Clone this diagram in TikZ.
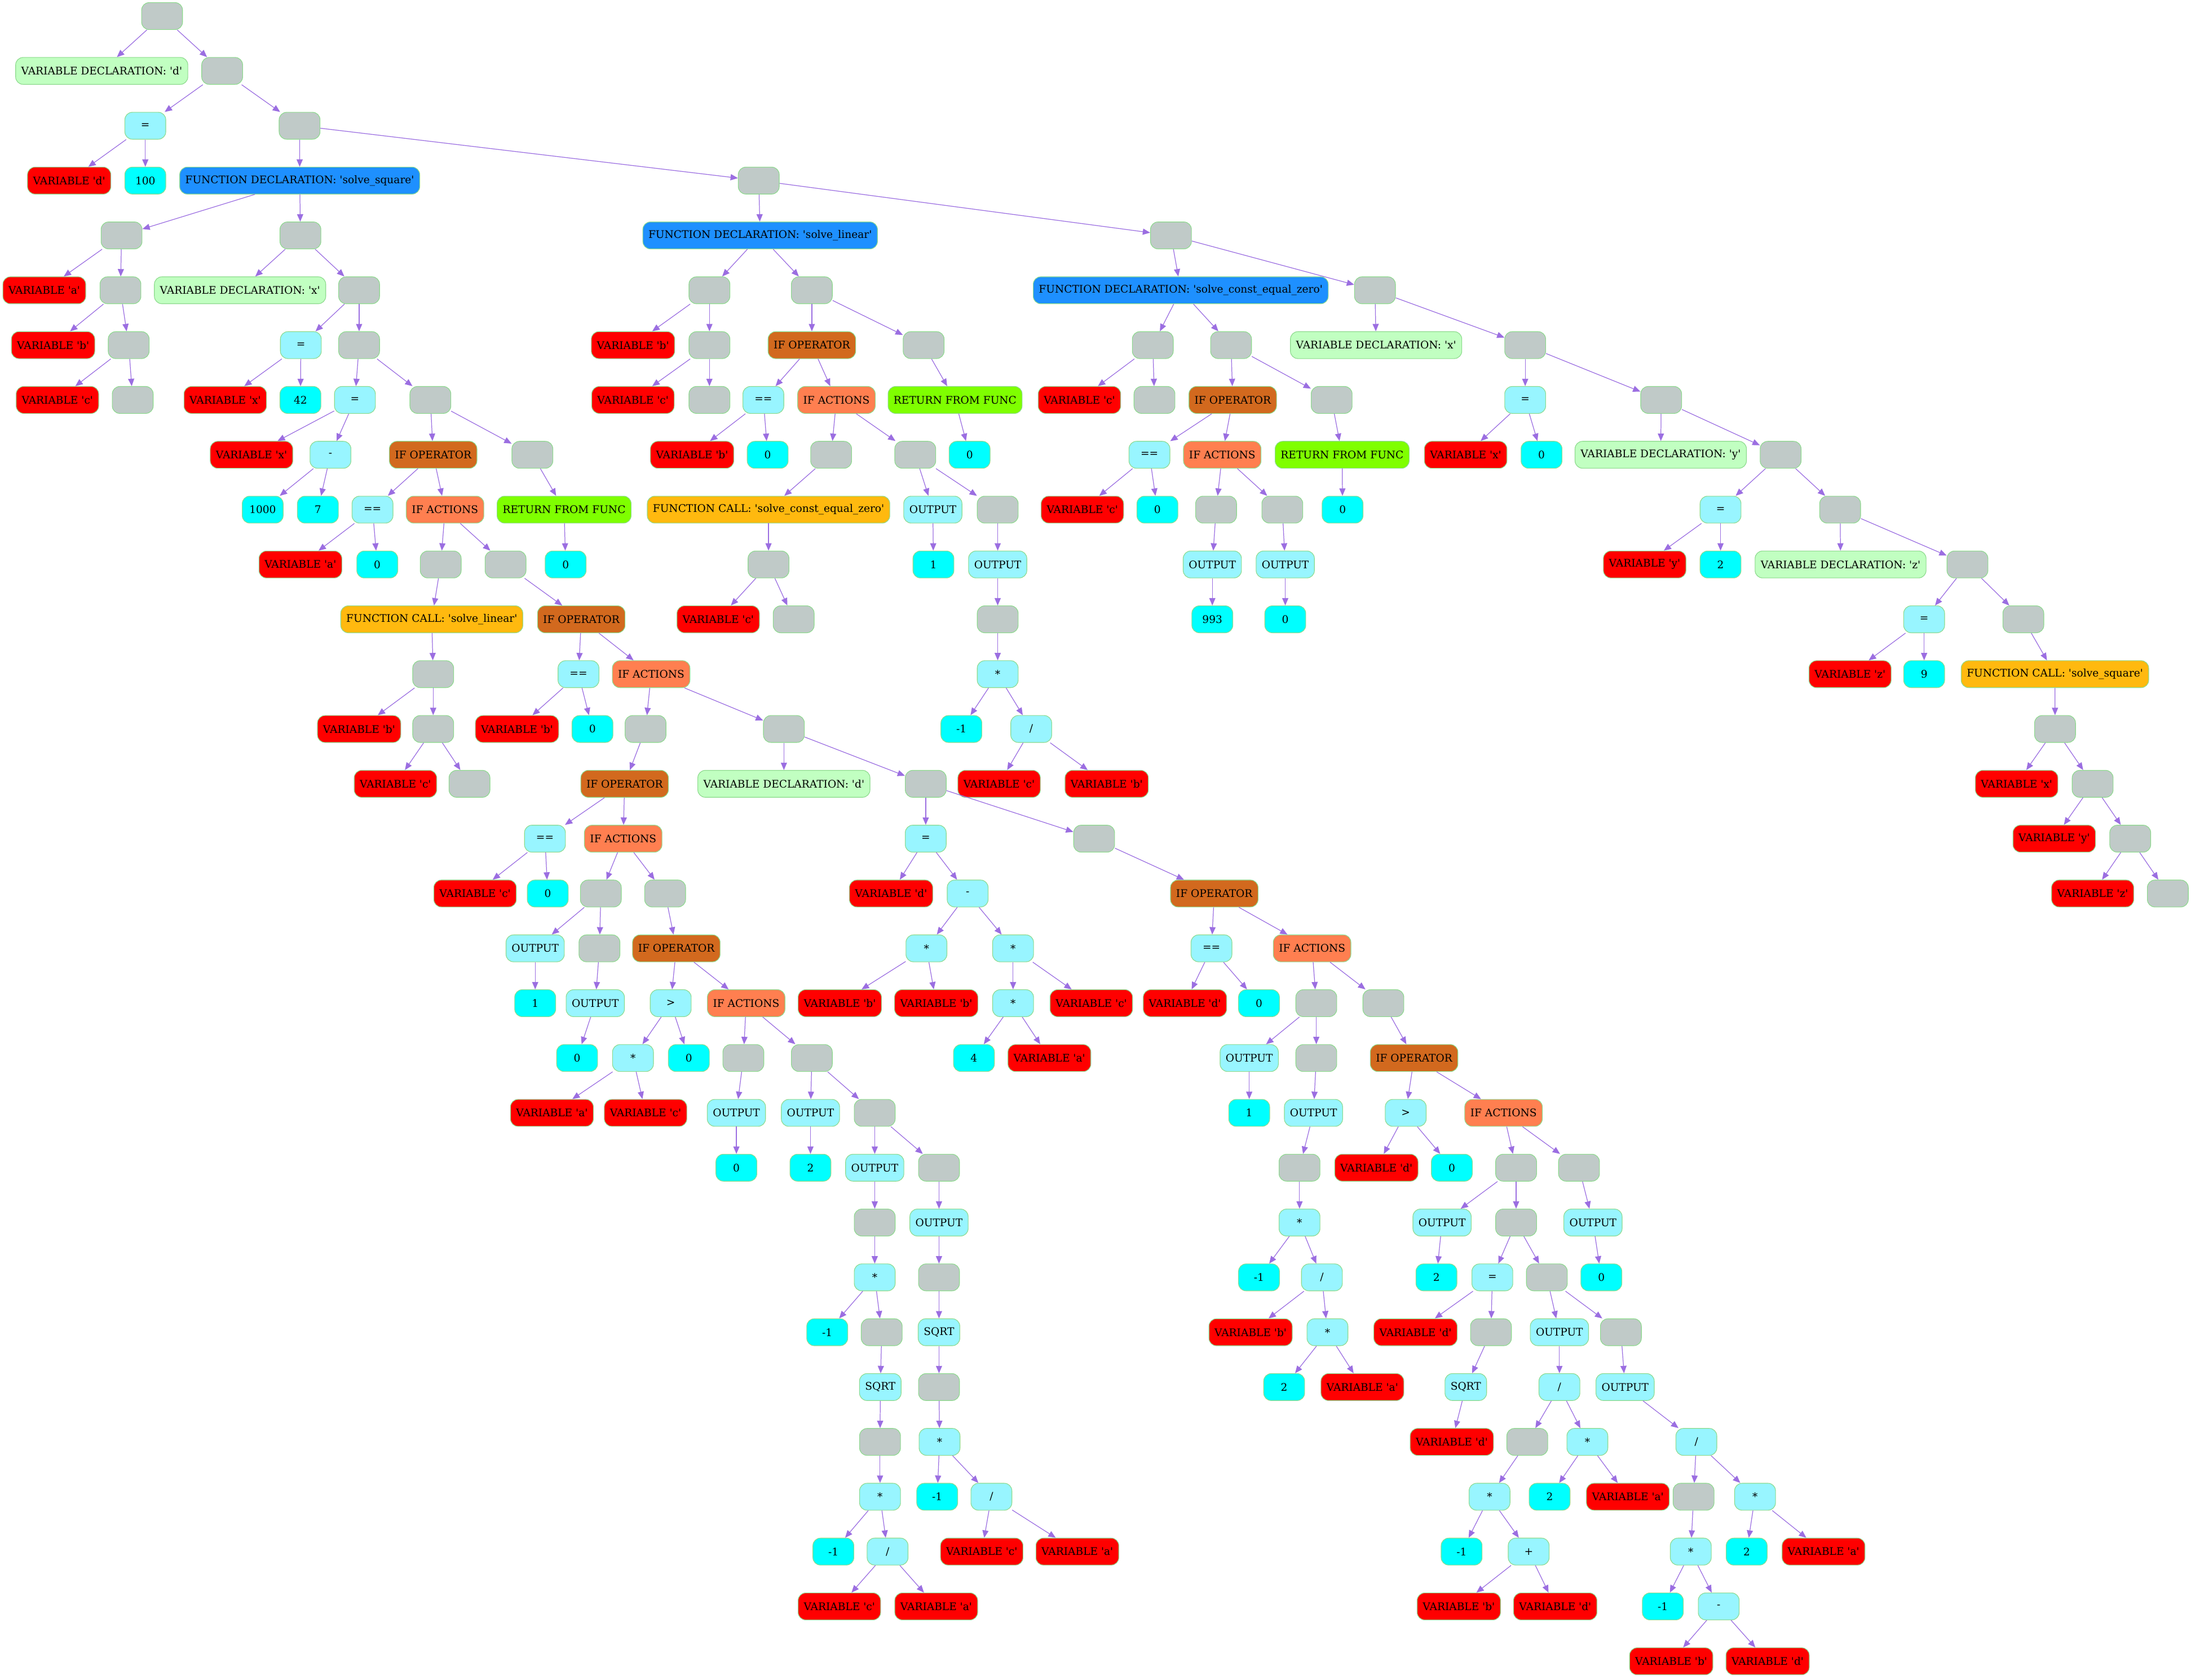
\documentclass[tikz,border=0pt]{standalone}
\usepackage{fontspec}
\usetikzlibrary{arrows.meta}
\newfontfamily\lblfam{DejaVu Serif}
\definecolor{blankc}{RGB}{192,202,200}
\definecolor{bordc}{RGB}{140,218,140}
\definecolor{edgec}{RGB}{155,110,225}
\definecolor{vdeclc}{RGB}{193,255,193}
\definecolor{opc}{RGB}{152,245,255}
\definecolor{numc}{RGB}{0,255,255}
\definecolor{varc}{RGB}{255,0,0}
\definecolor{fdeclc}{RGB}{30,144,255}
\definecolor{ifopc}{RGB}{210,105,30}
\definecolor{ifactc}{RGB}{255,127,80}
\definecolor{retc}{RGB}{127,255,0}
\definecolor{fcallc}{RGB}{255,185,15}
\begin{document}
\begin{tikzpicture}[x=1pt,y=-39.25pt,
  nd/.style={draw=bordc,line width=0.45pt,rounded corners=5.4pt,
    minimum width=29.3pt,minimum height=19.3pt,inner xsep=4pt,inner ysep=0pt,
    font=\lblfam\fontsize{7.5}{9}\selectfont,text=black},
  bl/.style={nd,fill=blankc},
  vd/.style={nd,fill=vdeclc},
  op/.style={nd,fill=opc},
  nm/.style={nd,fill=numc},
  vr/.style={nd,fill=varc},
  fd/.style={nd,fill=fdeclc},
  io/.style={nd,fill=ifopc},
  ia/.style={nd,fill=ifactc},
  rt/.style={nd,fill=retc},
  fc/.style={nd,fill=fcallc},
  conn/.style={draw=edgec,line width=0.5pt,-{Triangle[length=5.3pt,width=4.4pt]}}]
\useasboundingbox (0,-0.29299) rectangle (1568,30.3414);

% program root and global declarations
\node[bl] (n0) at (116,0) {};
\node[vd] (n1) at (72.8,1) {VARIABLE DECLARATION: 'd'};
\node[bl] (n2) at (159,1) {};
\node[op] (n3) at (104,2) {=};
\node[bl] (n4) at (214.4,2) {};
\node[vr] (n5) at (49.5,3) {VARIABLE 'd'};
\node[nm] (n6) at (104,3) {100};
\node[fd] (n7) at (214.5,3) {FUNCTION DECLARATION: 'solve\_square'};
\node[bl] (n8) at (543,3) {};

% solve_square
\node[bl] (a1) at (87,4) {};
\node[bl] (a2) at (215,4) {};
\node[vr] (a3) at (31.7,5) {VARIABLE 'a'};
\node[bl] (a4) at (86.2,5) {};
\node[vr] (a5) at (38,6) {VARIABLE 'b'};
\node[bl] (a6) at (92.1,6) {};
\node[vr] (a7) at (41.1,7) {VARIABLE 'c'};
\node[bl] (a8) at (95,7) {};
\node[vd] (a9) at (171.8,5) {VARIABLE DECLARATION: 'x'};
\node[bl] (a10) at (257,5) {};
\node[op] (a11) at (215.3,6) {=};
\node[bl] (a12) at (257,6) {};
\node[vr] (a13) at (161.2,7) {VARIABLE 'x'};
\node[nm] (a14) at (215,7) {42};
\node[op] (a15) at (254,7) {=};
\node[bl] (a16) at (308,7) {};
\node[vr] (a17) at (180,8) {VARIABLE 'x'};
\node[op] (a18) at (236.5,8) {-};
\node[nm] (a19) at (188,9) {1000};
\node[nm] (a20) at (227.5,9) {7};
\node[io] (a21) at (310,8) {IF OPERATOR};
\node[bl] (a22) at (381,8) {};
\node[op] (a23) at (266.6,9) {==};
\node[ia] (a24) at (318.5,9) {IF ACTIONS};
\node[rt] (a25) at (403.7,9) {RETURN FROM FUNC};
\node[vr] (a26) at (215,10) {VARIABLE 'a'};
\node[nm] (a27) at (270,10) {0};
\node[bl] (a28) at (315.4,10) {};
\node[bl] (a29) at (361.8,10) {};
\node[nm] (a30) at (404.8,10) {0};
\node[fc] (a31) at (309,11) {FUNCTION CALL: 'solve\_linear'};
\node[bl] (a32) at (310,12) {};
\node[vr] (a33) at (257,13) {VARIABLE 'b'};
\node[bl] (a34) at (310,13) {};
\node[vr] (a35) at (283,14) {VARIABLE 'c'};
\node[bl] (a36) at (336,14) {};
\node[io] (a37) at (416,11) {IF OPERATOR};
\node[op] (a38) at (414,12) {==};
\node[ia] (a39) at (466,12) {IF ACTIONS};
\node[vr] (a40) at (370,13) {VARIABLE 'b'};
\node[nm] (a41) at (424,13) {0};
\node[bl] (a42) at (462,13) {};
\node[bl] (a43) at (561,13) {};
\node[io] (a44) at (447,14) {IF OPERATOR};
\node[op] (a45) at (390,15) {==};
\node[ia] (a46) at (446,15) {IF ACTIONS};
\node[vr] (a47) at (340,16) {VARIABLE 'c'};
\node[nm] (a48) at (392,16) {0};
\node[bl] (a49) at (430,16) {};
\node[bl] (a50) at (476,16) {};
\node[op] (a51) at (383,17) {OUTPUT};
\node[bl] (a52) at (429,17) {};
\node[nm] (a53) at (383,18) {1};
\node[op] (a54) at (426,18) {OUTPUT};
\node[nm] (a55) at (413,19) {0};
\node[io] (a56) at (484,17) {IF OPERATOR};
\node[op] (a57) at (480,18) {>};
\node[ia] (a58) at (534,18) {IF ACTIONS};
\node[op] (a59) at (453,19) {*};
\node[nm] (a60) at (493,19) {0};
\node[vr] (a61) at (395,20) {VARIABLE 'a'};
\node[vr] (a62) at (462,20) {VARIABLE 'c'};
\node[bl] (a63) at (532,19) {};
\node[bl] (a64) at (581,19) {};
\node[op] (a65) at (527,20) {OUTPUT};
\node[nm] (a66) at (527,21) {0};
\node[op] (a67) at (580,20) {OUTPUT};
\node[bl] (a68) at (626,20) {};
\node[nm] (a69) at (580,21) {2};
\node[op] (a70) at (626,21) {OUTPUT};
\node[bl] (a71) at (672,21) {};
\node[bl] (a72) at (626,22) {};
\node[op] (a73) at (626,23) {*};
\node[nm] (a74) at (592,24) {-1};
\node[bl] (a75) at (631,24) {};
\node[op] (a76) at (630,25) {SQRT};
\node[bl] (a77) at (629.8,26) {};
\node[op] (a78) at (629.8,27) {*};
\node[nm] (a79) at (596.4,28) {-1};
\node[op] (a80) at (635.2,28) {/};
\node[vr] (a81) at (600.7,29) {VARIABLE 'c'};
\node[vr] (a82) at (670,29) {VARIABLE 'a'};
\node[op] (a83) at (672,22) {OUTPUT};
\node[bl] (a84) at (672,23) {};
\node[op] (a85) at (672,24) {SQRT};
\node[bl] (a86) at (672,25) {};
\node[op] (a87) at (672.4,26) {*};
\node[nm] (a88) at (670.7,27) {-1};
\node[op] (a89) at (709.5,27) {/};
\node[vr] (a90) at (702.6,28) {VARIABLE 'c'};
\node[vr] (a91) at (771,28) {VARIABLE 'a'};

% discriminant branch
\node[vd] (e0) at (561,14) {VARIABLE DECLARATION: 'd'};
\node[bl] (e1) at (662.5,14) {};
\node[op] (e2) at (662.5,15) {=};
\node[bl] (e3) at (783,15) {};
\node[vr] (e4) at (637.7,16) {VARIABLE 'd'};
\node[op] (e5) at (692.5,16) {-};
\node[op] (e6) at (663,17) {*};
\node[op] (e7) at (725,17) {*};
\node[vr] (e8) at (601,18) {VARIABLE 'b'};
\node[vr] (e9) at (670,18) {VARIABLE 'b'};
\node[op] (e10) at (725,18) {*};
\node[vr] (e11) at (781,18) {VARIABLE 'c'};
\node[nm] (e12) at (697,19) {4};
\node[vr] (e13) at (751,19) {VARIABLE 'a'};
\node[io] (e14) at (869,16) {IF OPERATOR};
\node[op] (e15) at (867,17) {==};
\node[ia] (e16) at (939,17) {IF ACTIONS};
\node[vr] (e17) at (848,18) {VARIABLE 'd'};
\node[nm] (e18) at (901,18) {0};
\node[bl] (e19) at (942,18) {};
\node[bl] (e20) at (990,18) {};
\node[op] (e21) at (894,19) {OUTPUT};
\node[bl] (e22) at (942,19) {};
\node[nm] (e23) at (894,20) {1};
\node[op] (e24) at (940,20) {OUTPUT};
\node[bl] (e25) at (930,21) {};
\node[op] (e26) at (930,22) {*};
\node[nm] (e27) at (901,23) {-1};
\node[op] (e28) at (946,23) {/};
\node[vr] (e29) at (895,24) {VARIABLE 'b'};
\node[op] (e30) at (950,24) {*};
\node[nm] (e31) at (919,25) {2};
\node[vr] (e32) at (975,25) {VARIABLE 'a'};
\node[io] (e33) at (1012,19) {IF OPERATOR};
\node[op] (e34) at (1006,20) {>};
\node[ia] (e35) at (1076,20) {IF ACTIONS};
\node[vr] (e36) at (985,21) {VARIABLE 'd'};
\node[nm] (e37) at (1039,21) {0};
\node[bl] (e38) at (1085,21) {};
\node[bl] (e39) at (1130,21) {};
\node[op] (e40) at (1032,22) {OUTPUT};
\node[bl] (e41) at (1085,22) {};
\node[nm] (e42) at (1028,23) {2};
\node[op] (e43) at (1068,23) {=};
\node[bl] (e44) at (1107,23) {};
\node[vr] (e45) at (1013,24) {VARIABLE 'd'};
\node[bl] (e46) at (1067,24) {};
\node[op] (e47) at (1049,25) {SQRT};
\node[vr] (e48) at (1039,26) {VARIABLE 'd'};
\node[op] (e49) at (1116,24) {OUTPUT};
\node[bl] (e50) at (1160,24) {};
\node[op] (e51) at (1116,25) {/};
\node[bl] (e52) at (1093,26) {};
\node[op] (e53) at (1136,26) {*};
\node[op] (e54) at (1066,27) {*};
\node[nm] (e55) at (1046,28) {-1};
\node[op] (e56) at (1094,28) {+};
\node[vr] (e57) at (1044,29) {VARIABLE 'b'};
\node[vr] (e58) at (1113,29) {VARIABLE 'd'};
\node[nm] (e59) at (1109,27) {2};
\node[vr] (e60) at (1165,27) {VARIABLE 'a'};
\node[op] (e61) at (1163,25) {OUTPUT};
\node[op] (e62) at (1214,26) {/};
\node[bl] (e63) at (1212,27) {};
\node[op] (e64) at (1256,27) {*};
\node[op] (e65) at (1210,28) {*};
\node[nm] (e66) at (1190,29) {-1};
\node[op] (e67) at (1230,29) {-};
\node[vr] (e68) at (1196,30) {VARIABLE 'b'};
\node[vr] (e69) at (1265,30) {VARIABLE 'd'};
\node[nm] (e70) at (1250,28) {2};
\node[vr] (e71) at (1305,28) {VARIABLE 'a'};
\node[op] (e72) at (1140,22) {OUTPUT};
\node[nm] (e73) at (1146,23) {0};

% solve_linear
\node[fd] (b0) at (544,4) {FUNCTION DECLARATION: 'solve\_linear'};
\node[bl] (b1) at (838,4) {};
\node[bl] (b2) at (507.7,5) {};
\node[bl] (b3) at (581,5) {};
\node[vr] (b4) at (453,6) {VARIABLE 'b'};
\node[bl] (b5) at (507.7,6) {};
\node[vr] (b6) at (453,7) {VARIABLE 'c'};
\node[bl] (b7) at (507.7,7) {};
\node[io] (b8) at (581,6) {IF OPERATOR};
\node[bl] (b9) at (661,6) {};
\node[op] (b10) at (546.3,7) {==};
\node[ia] (b11) at (598.6,7) {IF ACTIONS};
\node[rt] (b12) at (683.5,7) {RETURN FROM FUNC};
\node[vr] (b13) at (495.3,8) {VARIABLE 'b'};
\node[nm] (b14) at (549.4,8) {0};
\node[bl] (b15) at (594.8,8) {};
\node[bl] (b16) at (655,8) {};
\node[nm] (b17) at (693.9,8) {0};
\node[fc] (b18) at (550,9) {FUNCTION CALL: 'solve\_const\_equal\_zero'};
\node[bl] (b19) at (550,10) {};
\node[vr] (b20) at (514,11) {VARIABLE 'c'};
\node[bl] (b21) at (568,11) {};
\node[op] (b22) at (667.6,9) {OUTPUT};
\node[bl] (b23) at (714,9) {};
\node[nm] (b24) at (668,10) {1};
\node[op] (b25) at (714,10) {OUTPUT};
\node[bl] (b26) at (714,11) {};
\node[op] (b27) at (714,12) {*};
\node[nm] (b28) at (688,13) {-1};
\node[op] (b29) at (738,13) {/};
\node[vr] (b30) at (715,14) {VARIABLE 'c'};
\node[vr] (b31) at (792,14) {VARIABLE 'b'};

% solve_const_equal_zero
\node[fd] (c0) at (845,5) {FUNCTION DECLARATION: 'solve\_const\_equal\_zero'};
\node[bl] (c1) at (984,5) {};
\node[bl] (c2) at (825,6) {};
\node[bl] (c3) at (881,6) {};
\node[vr] (c4) at (772.5,7) {VARIABLE 'c'};
\node[bl] (c5) at (826.2,7) {};
\node[io] (c6) at (882.2,7) {IF OPERATOR};
\node[bl] (c7) at (953,7) {};
\node[op] (c8) at (822.6,8) {==};
\node[ia] (c9) at (874.7,8) {IF ACTIONS};
\node[rt] (c10) at (960.5,8) {RETURN FROM FUNC};
\node[vr] (c11) at (774.6,9) {VARIABLE 'c'};
\node[nm] (c12) at (828.3,9) {0};
\node[bl] (c13) at (870.3,9) {};
\node[bl] (c14) at (917.7,9) {};
\node[nm] (c15) at (960.8,9) {0};
\node[op] (c16) at (867.6,10) {OUTPUT};
\node[op] (c17) at (919.8,10) {OUTPUT};
\node[nm] (c18) at (867.6,11) {993};
\node[nm] (c19) at (919.8,11) {0};

% main body
\node[vd] (d0) at (984.8,6) {VARIABLE DECLARATION: 'x'};
\node[bl] (d1) at (1091.5,6) {};
\node[op] (d2) at (1091.5,7) {=};
\node[bl] (d3) at (1188.8,7) {};
\node[vr] (d4) at (1048.9,8) {VARIABLE 'x'};
\node[nm] (d5) at (1103.2,8) {0};
\node[vd] (d6) at (1188.5,8) {VARIABLE DECLARATION: 'y'};
\node[bl] (d7) at (1274.3,8) {};
\node[op] (d8) at (1231.3,9) {=};
\node[bl] (d9) at (1316.9,9) {};
\node[vr] (d10) at (1177,10) {VARIABLE 'y'};
\node[nm] (d11) at (1231.3,10) {2};
\node[vd] (d12) at (1317.2,10) {VARIABLE DECLARATION: 'z'};
\node[bl] (d13) at (1408,10) {};
\node[op] (d14) at (1377,11) {=};
\node[bl] (d15) at (1448,11) {};
\node[vr] (d16) at (1324,12) {VARIABLE 'z'};
\node[nm] (d17) at (1377,12) {9};
\node[fc] (d18) at (1470.6,12) {FUNCTION CALL: 'solve\_square'};
\node[bl] (d19) at (1470.7,13) {};
\node[vr] (d20) at (1443.2,14) {VARIABLE 'x'};
\node[bl] (d21) at (1497.6,14) {};
\node[vr] (d22) at (1470.1,15) {VARIABLE 'y'};
\node[bl] (d23) at (1524.5,15) {};
\node[vr] (d24) at (1497.6,16) {VARIABLE 'z'};
\node[bl] (d25) at (1551.4,16) {};

% connectors
\foreach \p/\c in {n0/n1,n0/n2,n2/n3,n2/n4,n3/n5,n3/n6,n4/n7,n4/n8,
  n7/a1,n7/a2,a1/a3,a1/a4,a4/a5,a4/a6,a6/a7,a6/a8,a2/a9,a2/a10,a10/a11,a10/a12,
  a11/a13,a11/a14,a12/a15,a12/a16,a15/a17,a15/a18,a18/a19,a18/a20,a16/a21,a16/a22,
  a21/a23,a21/a24,a22/a25,a23/a26,a23/a27,a24/a28,a24/a29,a25/a30,a28/a31,a31/a32,
  a32/a33,a32/a34,a34/a35,a34/a36,a29/a37,a37/a38,a37/a39,a38/a40,a38/a41,a39/a42,
  a39/a43,a42/a44,a44/a45,a44/a46,a45/a47,a45/a48,a46/a49,a46/a50,a49/a51,a49/a52,
  a51/a53,a52/a54,a54/a55,a50/a56,a56/a57,a56/a58,a57/a59,a57/a60,a59/a61,a59/a62,
  a58/a63,a58/a64,a63/a65,a65/a66,a64/a67,a64/a68,a67/a69,a68/a70,a68/a71,a70/a72,
  a72/a73,a73/a74,a73/a75,a75/a76,a76/a77,a77/a78,a78/a79,a78/a80,a80/a81,a80/a82,
  a71/a83,a83/a84,a84/a85,a85/a86,a86/a87,a87/a88,a87/a89,a89/a90,a89/a91,
  a43/e0,a43/e1,e1/e2,e1/e3,e2/e4,e2/e5,e5/e6,e5/e7,e6/e8,e6/e9,e7/e10,e7/e11,
  e10/e12,e10/e13,e3/e14,e14/e15,e14/e16,e15/e17,e15/e18,e16/e19,e16/e20,e19/e21,
  e19/e22,e21/e23,e22/e24,e24/e25,e25/e26,e26/e27,e26/e28,e28/e29,e28/e30,e30/e31,
  e30/e32,e20/e33,e33/e34,e33/e35,e34/e36,e34/e37,e35/e38,e35/e39,e38/e40,e38/e41,
  e40/e42,e41/e43,e41/e44,e43/e45,e43/e46,e46/e47,e47/e48,e44/e49,e44/e50,e49/e51,
  e51/e52,e51/e53,e52/e54,e54/e55,e54/e56,e56/e57,e56/e58,e53/e59,e53/e60,e50/e61,
  e61/e62,e62/e63,e62/e64,e63/e65,e65/e66,e65/e67,e67/e68,e67/e69,e64/e70,e64/e71,
  e39/e72,e72/e73,
  n8/b0,n8/b1,b0/b2,b0/b3,b2/b4,b2/b5,b5/b6,b5/b7,b3/b8,b3/b9,b8/b10,b8/b11,b9/b12,
  b10/b13,b10/b14,b11/b15,b11/b16,b12/b17,b15/b18,b18/b19,b19/b20,b19/b21,b16/b22,
  b16/b23,b22/b24,b23/b25,b25/b26,b26/b27,b27/b28,b27/b29,b29/b30,b29/b31,
  b1/c0,b1/c1,c0/c2,c0/c3,c2/c4,c2/c5,c3/c6,c3/c7,c6/c8,c6/c9,c7/c10,c8/c11,c8/c12,
  c9/c13,c9/c14,c10/c15,c13/c16,c14/c17,c16/c18,c17/c19,
  c1/d0,c1/d1,d1/d2,d1/d3,d2/d4,d2/d5,d3/d6,d3/d7,d7/d8,d7/d9,d8/d10,d8/d11,d9/d12,
  d9/d13,d13/d14,d13/d15,d14/d16,d14/d17,d15/d18,d18/d19,d19/d20,d19/d21,d21/d22,
  d21/d23,d23/d24,d23/d25}
  \draw[conn] (\p) -- (\c);
\end{tikzpicture}
\end{document}
